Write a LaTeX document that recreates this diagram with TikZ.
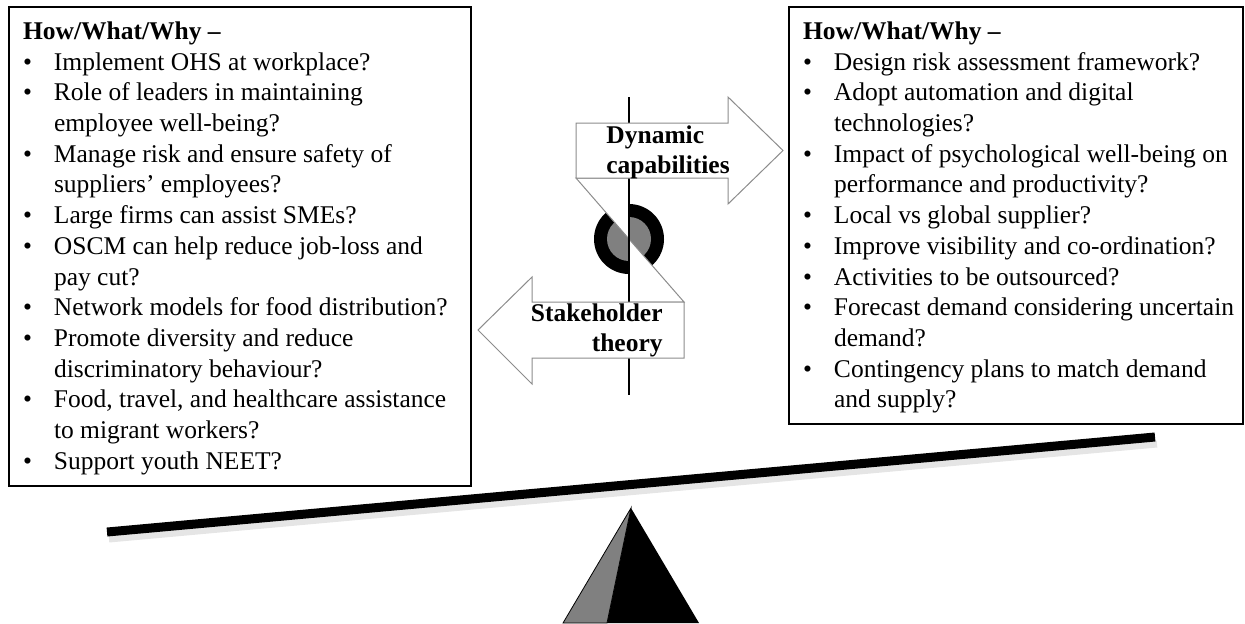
\documentclass[tikz,border=0pt]{standalone}
\usepackage{fontspec}
\setmainfont{Liberation Serif}
\usepackage{array}
\tikzset{
    question-box/.style = {draw=black, line width=1pt, fill=white, rectangle, anchor=north west, inner xsep=7pt, inner ysep=5.5pt, font=\fontsize{12.75pt}{15.35pt}\selectfont},
    theory-arrow/.style = {draw=black!45, fill=white, line width=0.5pt, line join=miter},
    theory-label/.style = {font=\fontsize{12.75pt}{15.35pt}\selectfont\bfseries, inner sep=0pt},
}

\begin{document}
\begin{tikzpicture}[x=0.5pt,y=-0.5pt]
\useasboundingbox (0,0) rectangle (1245,623);

% question boxes
\node [question-box] (left-box) at (8,6) {\begin{minipage}[t][228.5pt][t]{217pt}
\begin{tabular}[t]{@{}p{15.5pt}@{}l@{}}
\multicolumn{2}{@{}l@{}}{\textbf{How/What/Why –}}\\
\textbullet & Implement OHS at workplace?\\
\textbullet & Role of leaders in maintaining\\
            & employee well-being?\\
\textbullet & Manage risk and ensure safety of\\
            & suppliers’ employees?\\
\textbullet & Large firms can assist SMEs?\\
\textbullet & OSCM can help reduce job-loss and\\
            & pay cut?\\
\textbullet & Network models for food distribution?\\
\textbullet & Promote diversity and reduce\\
            & discriminatory behaviour?\\
\textbullet & Food, travel, and healthcare assistance\\
            & to migrant workers?\\
\textbullet & Support youth NEET?
\end{tabular}
\end{minipage}};

\node [question-box] (right-box) at (788,6) {\begin{minipage}[t][197.5pt][t]{213pt}
\begin{tabular}[t]{@{}p{15.5pt}@{}l@{}}
\multicolumn{2}{@{}l@{}}{\textbf{How/What/Why –}}\\
\textbullet & Design risk assessment framework?\\
\textbullet & Adopt automation and digital\\
            & technologies?\\
\textbullet & Impact of psychological well-being on\\
            & performance and productivity?\\
\textbullet & Local vs global supplier?\\
\textbullet & Improve visibility and co-ordination?\\
\textbullet & Activities to be outsourced?\\
\textbullet & Forecast demand considering uncertain\\
            & demand?\\
\textbullet & Contingency plans to match demand\\
            & and supply?
\end{tabular}
\end{minipage}};

% pivot: ring, white z-band, axis
\coordinate (pivot) at (629,239);
\fill[black] (pivot) circle[radius=35];
\fill[black!50] (pivot) circle[radius=22];
\filldraw[theory-arrow] (576,178) -- (629,178) -- (pivot) -- cycle;
\filldraw[theory-arrow] (pivot) -- (629,302) -- (684,302) -- cycle;
\draw[black, line width=0.6pt] (629,97) -- (629,395);

% the two arrows
\filldraw[theory-arrow] (576,123) -- (728,123) -- (728,97) -- (783,150.5) -- (728,204) -- (728,178) -- (576,178) -- cycle;
\filldraw[theory-arrow] (684,302) -- (532,302) -- (532,277) -- (478,330) -- (532,384) -- (532,358) -- (684,358) -- cycle;
\node[theory-label, anchor=north west, align=left] (dynamic) at (606,125) {Dynamic\\capabilities};
\node[theory-label, anchor=north east, align=right] (stakeholder) at (663,303) {Stakeholder\\theory};

% beam and fulcrum
\draw[black!20, opacity=0.5, line width=3.5pt] (109,539) -- (1157,444);
\draw[black, line width=4.5pt] (107,532) -- (1155,437);
\fill[black] (607,623) -- (631,508) -- (699,623) -- cycle;
\filldraw[fill=black!50, draw=black, line width=0.4pt] (563,623) -- (631,508) -- (607,623) -- cycle;
\end{tikzpicture}
\end{document}
